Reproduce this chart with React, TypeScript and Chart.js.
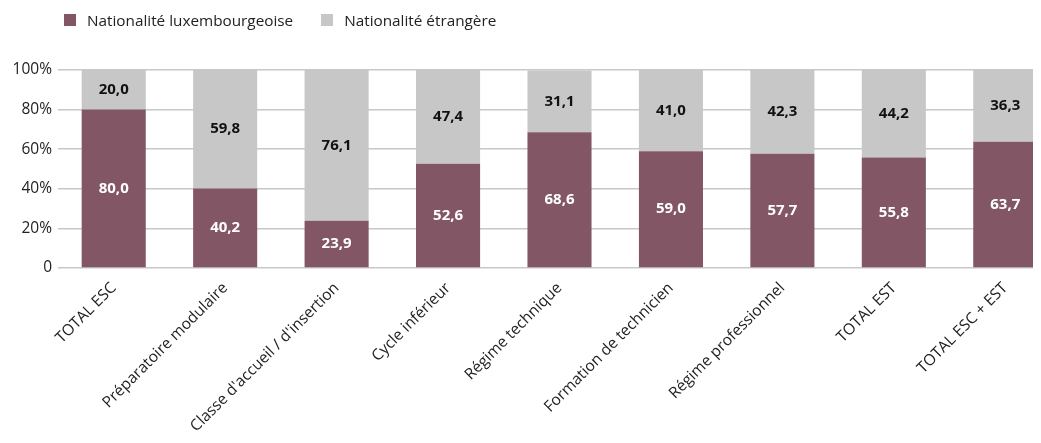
import React, { useEffect, useRef } from "react";
import { Chart, registerables } from "chart.js";

Chart.register(...registerables);

const categories = [
  "TOTAL ESC",
  "Préparatoire modulaire",
  "Classe d'accueil / d'insertion",
  "Cycle inférieur",
  "Régime technique",
  "Formation de technicien",
  "Régime professionnel",
  "TOTAL EST",
  "TOTAL ESC + EST",
];
const luxembourgeoise = [80.0, 40.2, 23.9, 52.6, 68.6, 59.0, 57.7, 55.8, 63.7];
const etrangere = [20.0, 59.8, 76.1, 47.4, 31.1, 41.0, 42.3, 44.2, 36.3];
const seriesNames = ["Nationalité luxembourgeoise", "Nationalité étrangère"];
const yTicks = [0, 20, 40, 60, 80, 100];

const MAROON = "#835666";
const GREY = "#c6c7c6";
const FONT = "'Open Sans', sans-serif";

const labelPlugin = {
  id: "segLabels",
  afterDatasetsDraw(chart: any) {
    const ctx = chart.ctx;
    ctx.save();
    ctx.font = `bold 15px ${FONT}`;
    ctx.textAlign = "center";
    ctx.textBaseline = "middle";
    chart.data.datasets.forEach((ds: any, di: number) => {
      const meta = chart.getDatasetMeta(di);
      meta.data.forEach((el: any, i: number) => {
        const v = ds.data[i];
        const y = (el.y + el.base) / 2;
        ctx.fillStyle = di === 0 ? "#ffffff" : "#111111";
        ctx.fillText(v.toFixed(1).replace(".", ","), el.x, y);
      });
    });
    ctx.restore();
  },
};

export default function App() {
  const ref = useRef<HTMLCanvasElement>(null);
  useEffect(() => {
    const chart = new Chart(ref.current!, {
      type: "bar",
      data: {
        labels: categories,
        datasets: [
          { label: seriesNames[0], data: luxembourgeoise, backgroundColor: MAROON },
          { label: seriesNames[1], data: etrangere, backgroundColor: GREY },
        ],
      },
      options: {
        animation: false,
        responsive: false,
        maintainAspectRatio: false,
        layout: { padding: { top: 62, left: 0, right: 0, bottom: 0 } },
        plugins: { legend: { display: false }, tooltip: { enabled: false } },
        datasets: { bar: { barPercentage: 0.575, categoryPercentage: 1 } },
        scales: {
          x: {
            stacked: true,
            grid: { display: false, drawTicks: false },
            border: { display: false },
            ticks: {
              maxRotation: 45,
              minRotation: 45,
              autoSkip: false,
              padding: 11,
              color: "#222",
              font: { family: FONT, size: 15.5 },
            },
            afterFit(scale: any) {
              scale.height = 167;
            },
          },
          y: {
            stacked: true,
            min: 0,
            max: 100,
            afterBuildTicks(scale: any) {
              scale.ticks = yTicks.map((v) => ({ value: v }));
            },
            afterFit(scale: any) {
              scale.width = 50;
            },
            grid: { color: "#c8c8c8", lineWidth: 1.5, drawTicks: false },
            border: { display: false },
            ticks: {
              padding: 6,
              color: "#222",
              font: { family: FONT, size: 15.5 },
              callback: (v: any) => (v === 0 ? "0" : v + "%"),
            },
          },
        },
      },
      plugins: [labelPlugin],
    });
    return () => chart.destroy();
  }, []);

  const legendItem = (name: string, color: string, ml: number) => (
    <div style={{ display: "flex", alignItems: "center", marginLeft: ml }}>
      <span style={{ width: 12, height: 12, background: color, display: "inline-block", marginRight: 11 }} />
      <span>{name}</span>
    </div>
  );

  return (
    <div style={{ width: 1025, height: 427, overflow: "hidden", position: "relative" }}>
      <div
        style={{
          position: "absolute",
          top: 2,
          left: 56,
          display: "flex",
          fontFamily: FONT,
          fontSize: 15.3,
          color: "#222",
          lineHeight: "20px",
          zIndex: 1,
        }}
      >
        {legendItem(seriesNames[0], MAROON, 0)}
        {legendItem(seriesNames[1], GREY, 28)}
      </div>
      <canvas ref={ref} width={1053} height={427} style={{ position: "absolute", top: 0, left: 0 }} />
    </div>
  );
}
